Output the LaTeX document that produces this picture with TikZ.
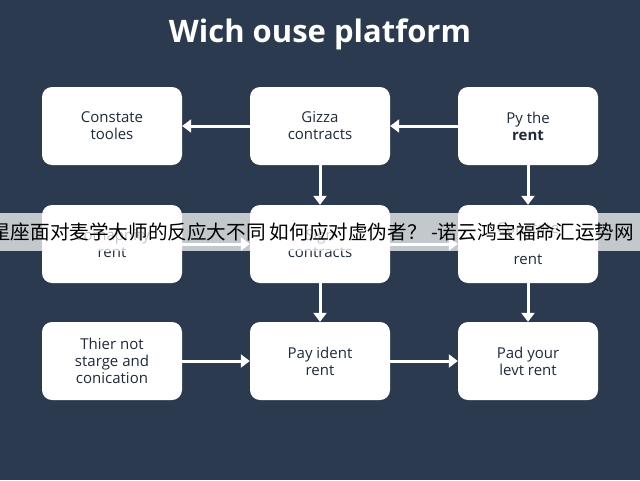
\documentclass[tikz,border=0pt]{standalone}
\usepackage{fontspec}
\setmainfont{Open Sans}
\newfontfamily\cjk{Noto Sans CJK SC}
\usetikzlibrary{arrows.meta}
\definecolor{bg}{HTML}{2B3A4F}
\definecolor{txt}{HTML}{1F2A3A}
\begin{document}
\begin{tikzpicture}[x=1pt,y=-1pt,
  box/.style={fill=white,rounded corners=10pt,minimum width=140pt,minimum height=78pt,align=center,font=\fontsize{15}{17}\selectfont,text=txt},
  arr/.style={draw=white,line width=3pt,-{Triangle[length=9pt,width=13pt]}}]
\fill[bg] (0,0) rectangle (640,480);
\useasboundingbox (0,0) rectangle (640,480);
\node[font=\bfseries\fontsize{31}{34}\selectfont,text=white] (title) at (320,34) {Wich ouse platform};
\node[box] (a1) at (112,126) {Constate\\tooles};
\node[box] (a2) at (320,126) {Gizza\\contracts};
\node[box] (a3) at (528,126) {Py the\\\textbf{rent}};
\node[box] (b1) at (112,244) {Comapnity\\rent};
\node[box] (b2) at (320,244) {Sign\\contracts};
\node[box] (b3) at (528,244) {Constate\\[14pt]rent};
\node[box] (c1) at (112,361) {Thier not\\starge and\\conication};
\node[box] (c2) at (320,361) {Pay ident\\rent};
\node[box] (c3) at (528,361) {Pad your\\levt rent};
\draw[arr] (a2) -- (a1);
\draw[arr] (a3) -- (a2);
\draw[arr] (a2) -- (b2);
\draw[arr] (a3) -- (b3);
\draw[arr] (b1) -- (b2);
\draw[arr] (b2) -- (b3);
\draw[arr] (b2) -- (c2);
\draw[arr] (b3) -- (c3);
\draw[arr] (c1) -- (c2);
\draw[arr] (c2) -- (c3);
\fill[white,opacity=0.72] (0,213) rectangle (640,251);
\clip (0,0) rectangle (640,480);
\node[anchor=west,font=\cjk\fontsize{19.6}{22}\selectfont,text=black,inner sep=0] (banner) at (-9,232) {星座面对麦学大师的反应大不同 如何应对虚伪者？ -诺云鸿宝福命汇运势网};
\end{tikzpicture}
\end{document}
